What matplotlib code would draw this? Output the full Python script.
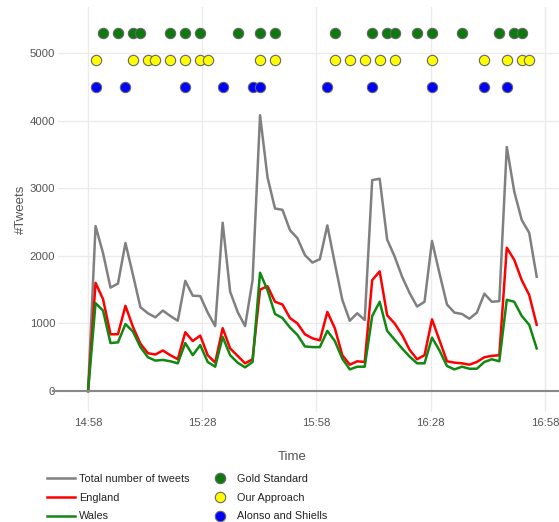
import matplotlib.pyplot as plt
from matplotlib.lines import Line2D
import numpy as np

plt.rcParams['font.family'] = ['Liberation Sans', 'DejaVu Sans']

# tweets per time bin (bins are a little under 2 minutes)
bin_minutes = 1.964
total = [0, 2440, 2040, 1530, 1590, 2190, 1720, 1240, 1150, 1090,
         1190, 1110, 1040, 1630, 1410, 1405, 1160, 960, 2490, 1470,
         1170, 960, 1640, 4080, 3160, 2700, 2680, 2380, 2260, 2010,
         1900, 1950, 2450, 1890, 1350, 1040, 1150, 1050, 3120, 3140,
         2240, 1990, 1690, 1450, 1250, 1320, 2220, 1740, 1280, 1160,
         1140, 1070, 1160, 1440, 1320, 1330, 3610, 2950, 2530, 2340, 1690]
england = [0, 1600, 1360, 840, 840, 1260, 950, 700, 560, 540,
           600, 530, 470, 870, 740, 820, 530, 420, 930, 630,
           520, 410, 470, 1500, 1550, 1320, 1280, 1080, 1000, 840,
           780, 750, 1170, 930, 530, 390, 440, 430, 1640, 1770,
           1120, 1000, 830, 610, 470, 530, 1060, 750, 440, 420,
           410, 390, 430, 500, 520, 530, 2120, 1940, 1640, 1420, 980]
wales = [0, 1300, 1190, 710, 720, 990, 880, 650, 500, 450,
         460, 440, 410, 710, 530, 680, 430, 360, 800, 530,
         420, 350, 430, 1750, 1490, 1140, 1080, 940, 830, 660,
         650, 650, 890, 740, 480, 320, 360, 360, 1110, 1320,
         890, 760, 630, 510, 410, 410, 790, 600, 370, 320,
         360, 330, 330, 430, 470, 440, 1350, 1320, 1110, 980, 630]

# detected events (bin index) and the height at which each row is drawn
gold_idx = [2, 4, 6, 7, 11, 13, 15, 20, 23, 25, 33, 38, 40, 41, 44, 46, 50, 55, 57, 58]
ours_idx = [1, 6, 8, 9, 11, 13, 15, 16, 23, 25, 33, 35, 37, 39, 41, 46, 53, 56, 58, 59]
alonso_idx = [1, 5, 13, 18, 22, 23, 32, 38, 46, 53, 56]
gold_level, ours_level, alonso_level = 5300, 4900, 4500

tick_minutes = [0, 30, 60, 90, 120]
tick_labels = ['14:58', '15:28', '15:58', '16:28', '16:58']

t = np.arange(len(total)) * bin_minutes

fig = plt.figure(figsize=(5.59, 5.22), dpi=100)
ax = fig.add_axes([58 / 559, 1 - 412 / 522, 1 - 58 / 559, (412 - 7) / 522])

l1, = ax.plot(t, total, color='#808080', lw=1.8, label='Total number of tweets')
l2, = ax.plot(t, england, color='#ff0000', lw=1.8, label='England')
l3, = ax.plot(t, wales, color='#118811', lw=1.8, label='Wales')

dot_kw = dict(s=55, edgecolors='#666666', linewidths=0.8, zorder=4)
ax.scatter(t[gold_idx], [gold_level] * len(gold_idx), c='#0d7a0d', **dot_kw)
ax.scatter(t[ours_idx], [ours_level] * len(ours_idx), c='#ffff00', **dot_kw)
ax.scatter(t[alonso_idx], [alonso_level] * len(alonso_idx), c='#0000ff', **dot_kw)

ax.axhline(0, xmin=-0.01, xmax=1, color='#888888', lw=1.5, clip_on=False, zorder=3)

ax.set_xlim(-7.9, 123.7)
ax.set_ylim(-310, 5680)
ax.set_xticks(tick_minutes)
ax.set_xticklabels(tick_labels)
ax.set_yticks([0, 1000, 2000, 3000, 4000, 5000])
ax.grid(True, color='#ebebeb', lw=1)
ax.set_axisbelow(True)
for s in ax.spines.values():
    s.set_visible(False)
ax.tick_params(length=0, labelsize=8.2, labelcolor='#555555')
ax.tick_params(axis='x', pad=4)
ax.tick_params(axis='y', pad=2)
ax.set_ylabel('#Tweets', fontsize=9.5, color='#555555', labelpad=2)

fig.text(292 / 559, 1 - 457 / 522, 'Time', fontsize=9.5, color='#555555', ha='center', va='center')

dot_handles = [Line2D([], [], ls='none', marker='o', markersize=7.5, markerfacecolor=c,
                      markeredgecolor='#666666', markeredgewidth=0.8)
               for c in ['#0d7a0d', '#ffff00', '#0000ff']]
dot_labels = ['Gold Standard', 'Our Approach', 'Alonso and Shiells']

leg_kw = dict(loc='upper left', frameon=False, fontsize=7.8, labelspacing=0.8,
              borderpad=0, borderaxespad=0)
leg1 = fig.legend([l1, l2, l3], [l1.get_label(), l2.get_label(), l3.get_label()],
                  bbox_to_anchor=(47 / 559, 1 - 474 / 522), handlelength=2.6, handletextpad=0.35, **leg_kw)
leg2 = fig.legend(dot_handles, dot_labels, bbox_to_anchor=(212 / 559, 1 - 474 / 522),
                  handlelength=1.4, handletextpad=0.95, **leg_kw)
for leg in (leg1, leg2):
    for txt in leg.get_texts():
        txt.set_color('#222222')

plt.savefig('out.png', dpi=100)
